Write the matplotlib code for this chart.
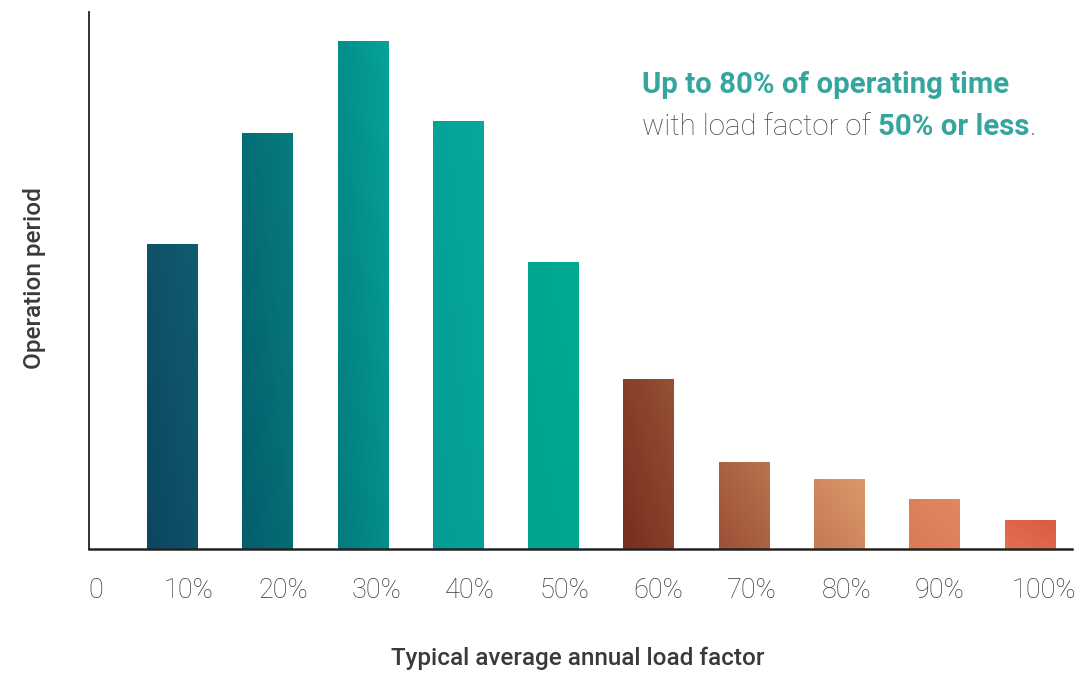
import numpy as np
import matplotlib
matplotlib.use("Agg")
import matplotlib.pyplot as plt
from matplotlib.colors import to_rgb

# data
labels = ["0", "10%", "20%", "30%", "40%", "50%", "60%", "70%", "80%", "90%", "100%"]
positions = [1, 2, 3, 4, 5, 6, 7, 8, 9, 10]
values = [30.5, 41.6, 50.8, 42.8, 28.7, 17.0, 8.7, 7.0, 5.0, 2.9]

# gradient colours per bar: (bottom-left, top-right)
grad_colors = [
    ("#0c4662", "#105c6f"),
    ("#045d6c", "#067c80"),
    ("#037a7e", "#05a399"),
    ("#039c96", "#08a89b"),
    ("#00a38e", "#01ab92"),
    ("#782d1e", "#965134"),
    ("#9c5036", "#ba7350"),
    ("#c47a55", "#de976b"),
    ("#d97c55", "#e28663"),
    ("#e27052", "#db5b3f"),
]

tick_x = [0.19, 1.17, 2.16, 3.14, 4.12, 5.11, 6.10, 7.08, 8.07, 9.05, 10.14]

plt.rcParams['font.family'] = ['Roboto', 'DejaVu Sans']

fig = plt.figure(figsize=(10.81, 6.75), dpi=100)
ax = fig.add_axes([0.0823, 0.1867, 0.9094, 0.7953])

bars = ax.bar(positions, values, width=0.535, color='none', edgecolor='none')

# fill each bar with a diagonal gradient clipped to the bar
for b, (c0, c1) in zip(bars, grad_colors):
    x0, y0 = b.get_x(), b.get_y()
    w, h = b.get_width(), b.get_height()
    u = np.linspace(0, 1, 50)
    v = np.linspace(0, 1, 200)
    U, V = np.meshgrid(u, v)
    t = (0.5 * U + 0.5 * V)[..., None]
    img = (1 - t) * np.array(to_rgb(c0)) + t * np.array(to_rgb(c1))
    im = ax.imshow(img, extent=(x0, x0 + w, y0, y0 + h), origin='lower',
                   aspect='auto', interpolation='bilinear', zorder=2)
    im.set_clip_path(b)

ax.set_xlim(0.124, 10.44)
ax.set_ylim(0, 53.7)

for s in ['top', 'right']:
    ax.spines[s].set_visible(False)
ax.spines['left'].set_linewidth(1.3)
ax.spines['bottom'].set_linewidth(1.8)
ax.spines['left'].set_color('#222222')
ax.spines['bottom'].set_color('#222222')
ax.spines['bottom'].set_zorder(3)

ax.set_yticks([])
ax.set_xticks(tick_x)
ax.set_xticklabels(labels, fontsize=19.5, fontweight='light', color='#383838')
ax.tick_params(axis='x', length=0, pad=20)

fig.text(0.032, 0.588, "Operation period", rotation=90, ha='center', va='center',
         fontsize=17.5, fontweight='medium', color='#3a3a3a')
fig.text(0.534, 0.024, "Typical average annual load factor", ha='center', va='center',
         fontsize=17.5, fontweight='medium', color='#3a3a3a')

teal = '#35a69e'
gray = '#4a4a4a'
fs = 21.2
ax.text(0.563, 0.850, "Up to 80% of operating time", transform=ax.transAxes,
        fontsize=fs, fontweight='bold', color=teal, va='baseline', ha='left')
t1 = ax.text(0.563, 0.771, "with load factor of ", transform=ax.transAxes,
             fontsize=fs, fontweight='light', color=gray, va='baseline', ha='left')
t2 = ax.annotate("50% or less", xy=(1, 0), xycoords=t1, va='bottom', ha='left',
                 fontsize=fs, fontweight='bold', color=teal)
ax.annotate(".", xy=(1, 0), xycoords=t2, va='bottom', ha='left',
            fontsize=fs, fontweight='light', color=gray)

fig.savefig("out.png", dpi=100)
